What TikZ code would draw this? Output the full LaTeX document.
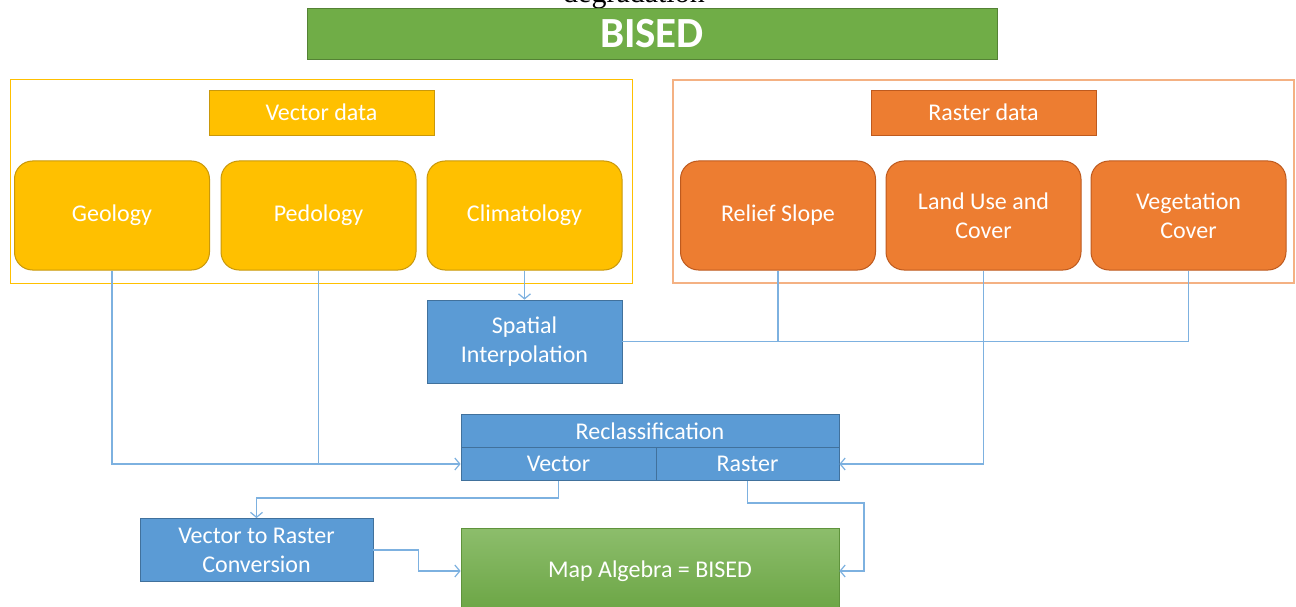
\documentclass[tikz,border=0pt]{standalone}
\usepackage{fontspec}
\setmainfont{Carlito}
\newfontfamily\serifword{Liberation Serif}
\usetikzlibrary{arrows.meta}
\definecolor{gr}{HTML}{70AD47}
\definecolor{grdark}{HTML}{548235}
\definecolor{yel}{HTML}{FFC000}
\definecolor{yeldark}{HTML}{C9980A}
\definecolor{org}{HTML}{ED7D31}
\definecolor{orgdark}{HTML}{BE5A1E}
\definecolor{orglight}{HTML}{F4B183}
\definecolor{blu}{HTML}{5B9BD5}
\definecolor{bludark}{HTML}{41719C}
\definecolor{wire}{HTML}{7DB1E0}
\tikzset{
  base/.style={text=white, font=\fontsize{24}{29}\selectfont, align=center, inner sep=0pt},
  ybox/.style={base, fill=yel, draw=yeldark, line width=1pt, rounded corners=18pt, minimum width=195pt, minimum height=109pt},
  obox/.style={base, fill=org, draw=orgdark, line width=1pt, rounded corners=18pt, minimum width=195pt, minimum height=109pt},
  bbox/.style={base, fill=blu, draw=bludark, line width=0.8pt},
  wln/.style={draw=wire, line width=1.4pt},
  warr/.style={wln, -{Straight Barb[length=5pt,width=12pt,line width=1.2pt]}},
}
\begin{document}
\begin{tikzpicture}[x=1pt,y=-1pt]
\clip (0,0) rectangle (1296,607);
\fill[white] (0,0) rectangle (1296,607);

% partly hidden caption above the title bar
\node[font=\serifword\fontsize{30}{30}\selectfont, anchor=base] (cap) at (634,3) {degradation};

% title bar
\node[fill=gr, draw=grdark, line width=0.8pt, minimum width=690pt, minimum height=51pt, inner sep=0pt,
      text=white, font=\bfseries\fontsize{43}{43}\selectfont] (title) at (652,33.5) {BISED};

% group frames
\node[draw=yel, line width=1pt, minimum width=622pt, minimum height=203pt, inner sep=0pt] (vframe) at (321,181.5) {};
\node[draw=orglight, line width=1.2pt, minimum width=621pt, minimum height=203pt, inner sep=0pt] (rframe) at (983.5,181.5) {};

% group labels
\node[base, fill=yel, draw=yeldark, line width=0.8pt, minimum width=225pt, minimum height=45pt] (vlab) at (321.5,112.5) {Vector data};
\node[base, fill=org, draw=orgdark, line width=0.8pt, minimum width=225pt, minimum height=45pt] (rlab) at (983.5,112.5) {Raster data};

% vector layers
\node[ybox] (geo)  at (112,215.5)   {Geology};
\node[ybox] (ped)  at (318.5,215.5) {Pedology};
\node[ybox] (clim) at (524.5,215.5) {Climatology};

% raster layers
\node[obox] (rel)  at (778,215.5)    {Relief Slope};
\node[obox] (land) at (983.5,215.5)  {Land Use and\\Cover};
\node[obox] (veg)  at (1188.5,215.5) {Vegetation\\Cover};

% processing steps
\node[bbox, minimum width=195pt, minimum height=83pt] (spat) at (524.5,341.5) {Spatial\\Interpolation};
\node[bbox, minimum width=378pt, minimum height=33pt] (recl) at (650,431) {Reclassification};
\node[bbox, minimum width=195pt, minimum height=33pt] (vec)  at (558.5,464) {Vector};
\node[bbox, minimum width=183pt, minimum height=33pt] (ras)  at (747.5,464) {Raster};
\node[bbox, minimum width=233pt, minimum height=63pt] (vtr)  at (256.5,550) {Vector to Raster\\Conversion};
\node[base, top color=gr!80!white, bottom color=gr!95!black, draw=gr!85!black, line width=0.8pt,
      minimum width=378pt, minimum height=86pt] (map) at (650,571) {Map Algebra = BISED};

% connectors
\draw[warr] (clim.south) -- (spat.north);
\draw[warr] (geo.south) |- (vec.west);
\draw[wln]  (ped.south) -- (ped.south |- vec.west);
\coordinate (junc) at (land.south |- spat.east);
\draw[wln]  (spat.east) -- (junc);
\draw[wln]  (rel.south) -- (rel.south |- spat.east);
\draw[wln]  (veg.south) |- (junc);
\draw[warr] (land.south) |- (ras.east);
\draw[warr] (vec.south) -- ++(0,17) -| (vtr.north);
\coordinate (rbend) at (864,503);
\draw[warr] (ras.south) |- (rbend) |- (map.east);
\draw[warr] (vtr.east) -- ++(45,0) |- (map.west);
\end{tikzpicture}
\end{document}
